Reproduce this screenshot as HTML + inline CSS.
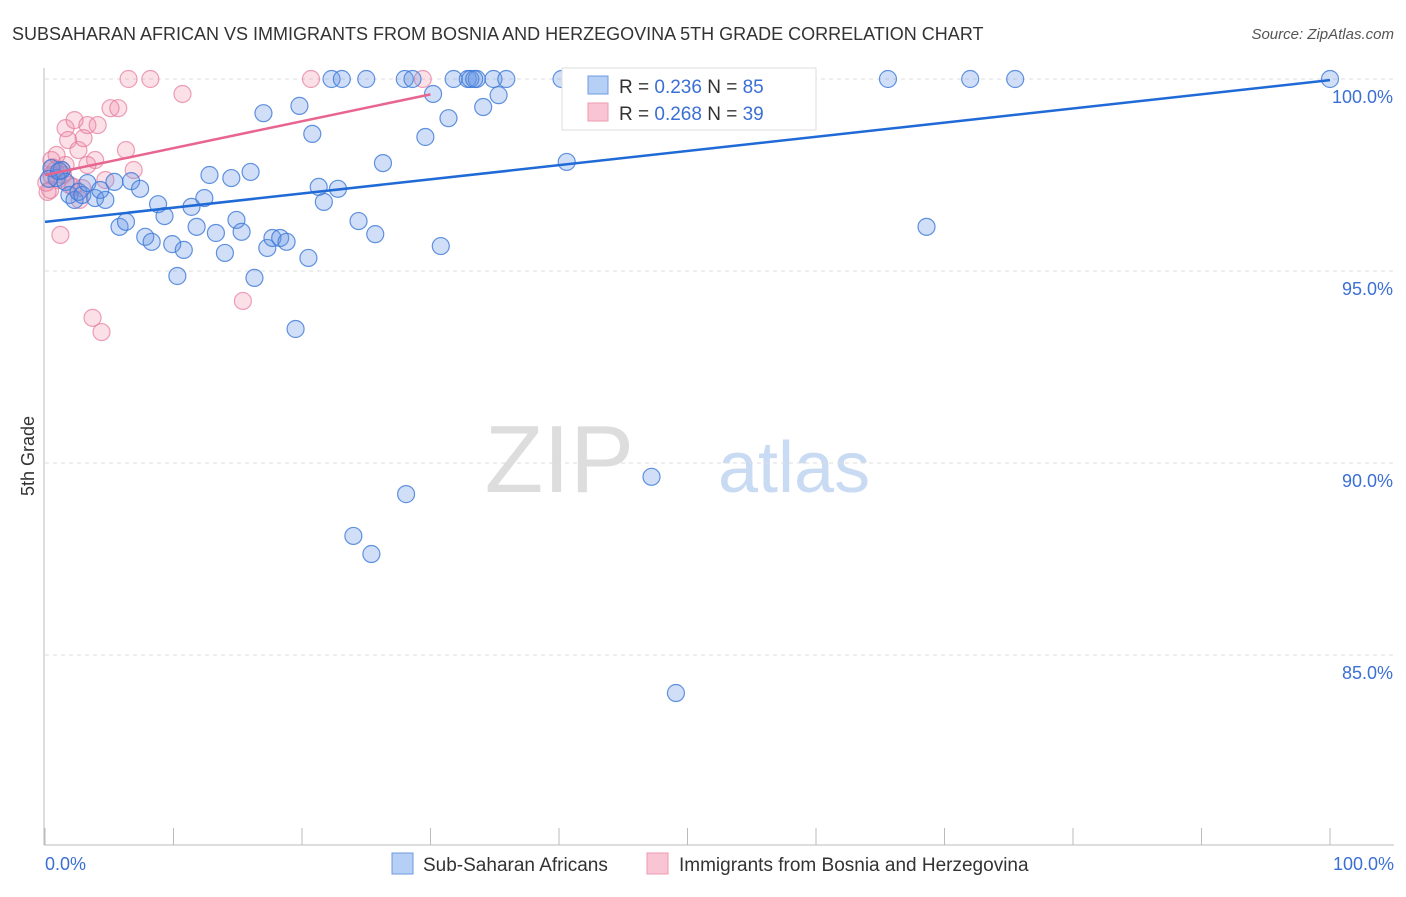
<!DOCTYPE html>
<html><head><meta charset="utf-8"><style>
body{margin:0;background:#fff;font-family:"Liberation Sans",sans-serif;}
svg text{font-family:"Liberation Sans",sans-serif;}
</style></head><body>
<svg width="1406" height="892" id="chart">
<text x="12" y="40" font-size="18" fill="#333">SUBSAHARAN AFRICAN VS IMMIGRANTS FROM BOSNIA AND HERZEGOVINA 5TH GRADE CORRELATION CHART</text>
<text x="1394" y="39" font-size="15" fill="#555" font-style="italic" text-anchor="end">Source: ZipAtlas.com</text>
<text x="634" y="492" font-size="96" fill="#ddd" font-family="Liberation Serif" text-anchor="end">ZIP</text>
<text x="718" y="492" font-size="72" fill="#c9daf3">atlas</text>
<text transform="translate(34,456) rotate(-90)" font-size="18" fill="#333" text-anchor="middle">5th Grade</text>
<g id="grid"></g><g id="marks"></g>
<g>
<rect x="562" y="68" width="254" height="62" fill="#fff" stroke="#ddd"/>
<rect x="588" y="76" width="20" height="18" fill="#b5cff5" stroke="#6d9ae0"/>
<rect x="588" y="103" width="20" height="18" fill="#f9c5d4" stroke="#ec9ab2"/>
<text x="619" y="93" font-size="19" fill="#333">R = <tspan fill="#3b6fd4">0.236</tspan>   N = <tspan fill="#3b6fd4">85</tspan></text>
<text x="619" y="120" font-size="19" fill="#333">R = <tspan fill="#3b6fd4">0.268</tspan>   N = <tspan fill="#3b6fd4">39</tspan></text>
</g>
<text x="45" y="870" font-size="18" fill="#3b6fd4">0.0%</text>
<text x="1394" y="870" font-size="18" fill="#3b6fd4" text-anchor="end">100.0%</text>
<g>
<rect x="392" y="853" width="21" height="21" fill="#b5cff5" stroke="#6d9ae0"/>
<text x="423" y="871" font-size="19" fill="#333">Sub-Saharan Africans</text>
<rect x="647" y="853" width="21" height="21" fill="#f9c5d4" stroke="#ec9ab2"/>
<text x="679" y="871" font-size="19" fill="#333">Immigrants from Bosnia and Herzegovina</text>
</g>
</svg>
<script>
const yTicks=[100,95,90,85];
const yTickLabels=["100.0%","95.0%","90.0%","85.0%"];
const blueX=[0.5,0.9,1.3,1.6,1.9,2.3,2.6,2.9,3.3,3.9,4.3,4.7,5.4,5.8,6.3,6.7,7.4,7.8,8.3,8.8,9.3,9.9,10.3,10.8,11.4,11.8,12.4,12.8,13.3,14.0,14.5,14.9,15.3,16.0,16.3,17.0,17.3,17.7,18.3,18.8,19.5,19.8,20.5,20.8,21.3,21.7,22.8,24.0,24.4,25.4,25.7,26.3,28.1,29.6,30.2,30.8,31.4,34.1,35.3,40.6,47.2,49.1,68.6,22.3,23.1,25.0,28.0,28.6,31.8,32.9,33.6,34.9,35.9,40.2,46.2,52.3,59.1,65.6,72.0,75.5,100,33.1,33.4,0.3,1.1];
const blueY=[97.68,97.42,97.63,97.32,96.98,96.85,97.06,96.98,97.29,96.90,97.11,96.85,97.32,96.15,96.28,97.34,97.14,95.89,95.76,96.74,96.43,95.70,94.87,95.55,96.67,96.15,96.90,97.50,95.99,95.47,97.42,96.33,96.02,97.58,94.82,99.11,95.60,95.86,95.86,95.76,93.49,99.30,95.34,98.57,97.19,96.80,97.14,88.10,96.30,87.63,95.96,97.81,89.19,98.49,99.61,95.65,98.98,99.27,99.58,97.84,89.64,84.01,96.15,100,100,100,100,100,100,100,100,100,100,100,100,100,100,100,100,100,100,100,100,97.4,97.6];
const pinkX=[0.4,0.5,0.8,1.0,1.2,1.3,1.6,1.8,1.9,2.3,2.6,2.9,3.0,3.3,3.7,3.9,4.1,4.4,5.1,5.7,6.3,6.5,6.9,8.2,10.7,15.4,20.7,29.4,0.5,1.6,2.2,2.7,3.3,4.7,0.9,0.2,0.1,1.4,0.6];
const pinkY=[97.11,97.89,97.63,97.37,95.94,97.63,98.72,98.41,97.24,98.93,98.15,97.16,98.46,98.80,93.78,97.89,98.80,93.41,99.24,99.24,98.15,100,97.63,100,99.61,94.22,100,100,97.50,97.76,97.19,96.85,97.76,97.37,98.02,97.06,97.3,97.5,97.7];
const blueLine=[[0,96.28],[100,99.97]];
const pinkLine=[[0,97.5],[30,99.6]];
const xs=v=>45+v*12.85, ys=v=>79+(100-v)*38.4;
const NS="http://www.w3.org/2000/svg";
const grid=document.getElementById('grid'), marks=document.getElementById('marks');
function mk(tag,attrs,parent){const e=document.createElementNS(NS,tag);for(const k in attrs)e.setAttribute(k,attrs[k]);parent.appendChild(e);return e;}
yTicks.forEach((t,i)=>{
 const l=mk('line',{x1:45,x2:1394,y1:ys(t),y2:ys(t),stroke:'#ddd','stroke-dasharray':'4,4'},grid);
 
 
 const tx=mk('text',{x:1393,y:ys(t)+24,'font-size':18,fill:'#3b6fd4','text-anchor':'end'},grid);
 tx.textContent=yTickLabels[i];
 
 
});
const ax=mk('line',{x1:44,x2:44,y1:68,y2:845,stroke:'#bbb'},grid);


const bx=mk('line',{x1:44,x2:1394,y1:845,y2:845,stroke:'#bbb'},grid);


for(let i=0;i<=10;i++){
 const t=mk('line',{x1:xs(i*10),x2:xs(i*10),y1:828,y2:845,stroke:'#bbb'},grid);
 
 
}
function pts(X,Y,fill,stroke,name){
 X.forEach((x,i)=>{
  const c=mk('circle',{cx:xs(x),cy:ys(Y[i]),r:8.5,fill:fill,stroke:stroke,'stroke-width':1.2},marks);
  
  
 });
}
pts(pinkX,pinkY,'rgba(240,130,165,0.25)','rgba(230,120,155,0.7)','bosnia-point');
pts(blueX,blueY,'rgba(100,150,230,0.3)','rgba(60,120,215,0.8)','subsaharan-point');
const bl=mk('line',{x1:xs(blueLine[0][0]),y1:ys(blueLine[0][1]),x2:xs(blueLine[1][0]),y2:ys(blueLine[1][1]),stroke:'#1f6ad6','stroke-width':2.5},marks);


const pl=mk('line',{x1:xs(pinkLine[0][0]),y1:ys(pinkLine[0][1]),x2:xs(pinkLine[1][0]),y2:ys(pinkLine[1][1]),stroke:'#e8658f','stroke-width':2.5},marks);


</script>
</body></html>
